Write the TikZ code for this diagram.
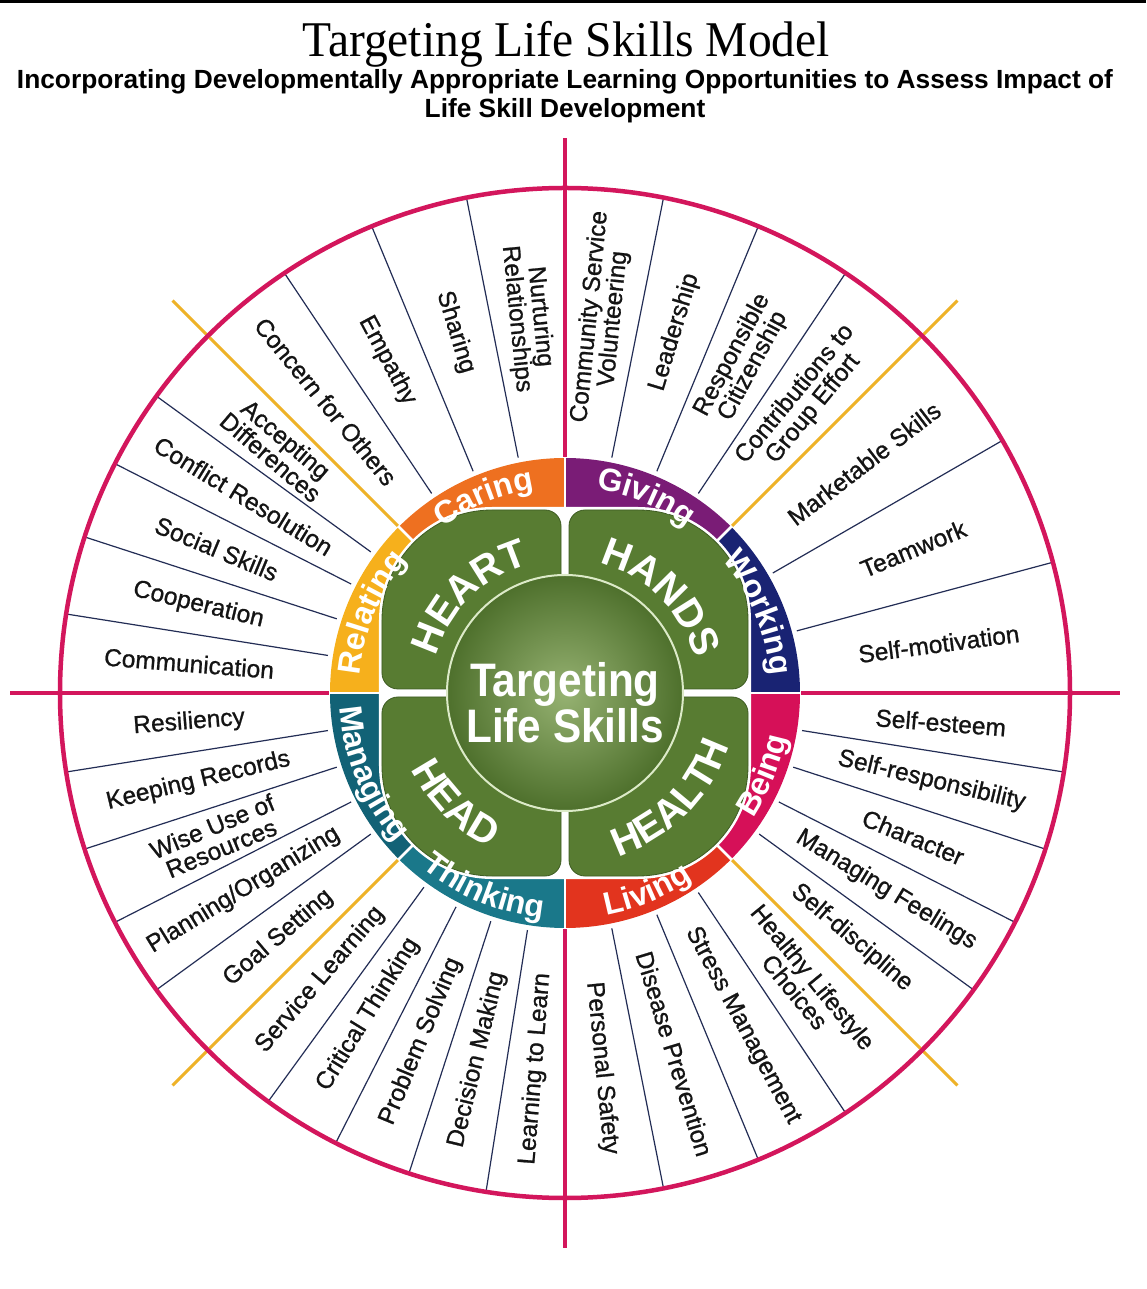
\documentclass[tikz,border=0pt]{standalone}
\usepackage{fontspec}
\usepackage{graphicx}
\usetikzlibrary{decorations.text}
\setmainfont{Liberation Serif}
\newfontfamily\hv{Liberation Sans}
\newfontfamily\skillfamily{Liberation Sans}[FakeBold=0.9]

\newcommand\titlefont{\rmfamily\fontsize{50}{54}\selectfont}
\newcommand\subfont{\hv\bfseries\fontsize{26.3}{29}\selectfont}
\newcommand\skillfont{\skillfamily\fontsize{24.5}{23.5}\selectfont}
\newcommand\hubfont{\hv\bfseries\fontsize{47}{50}\selectfont}
\newcommand\leaffont{\hv\bfseries\fontsize{40}{40}\selectfont}
\newcommand\bandfont{\hv\bfseries\fontsize{32}{32}\selectfont}

\definecolor{wheelmag}{RGB}{211,22,92}
\definecolor{wheelgold}{RGB}{238,178,40}
\definecolor{divider}{RGB}{35,45,85}
\definecolor{cWorking}{RGB}{25,35,115}
\definecolor{cGiving}{RGB}{122,28,118}
\definecolor{cCaring}{RGB}{238,112,32}
\definecolor{cRelating}{RGB}{246,176,28}
\definecolor{cManaging}{RGB}{18,98,118}
\definecolor{cThinking}{RGB}{26,120,138}
\definecolor{cLiving}{RGB}{226,52,30}
\definecolor{cBeing}{RGB}{214,16,88}
\definecolor{leaf}{RGB}{88,124,50}
\definecolor{leafdark}{RGB}{62,92,34}
\definecolor{hubin}{RGB}{150,178,114}
\definecolor{hubout}{RGB}{78,112,44}
\definecolor{hubrim}{RGB}{220,234,200}

% skill label placed radially at the middle of its slot, kept readable
\newcommand\skilllabel[3]{%
  \pgfmathsetmacro\skillrot{((#2>90)&&(#2<270)) ? #2-180 : #2}%
  \node[skilltext, rotate=\skillrot] (#1) at (#2:377pt) {#3};%
}

% white text set along an arc
\newcommand\arclabel[5]{%
  \path[decorate,decoration={text along path,text align=center,
    text color=white,text={|#4|#5}}]
    (#1:#3) arc[start angle=#1,end angle=#2,radius=#3];
}

\begin{document}
\begin{tikzpicture}[x=1pt,y=1pt,
  skilltext/.style={font=\skillfont, text=black!92, align=center, inner sep=0pt},
  axisline/.style={wheelmag, line width=4.5pt},
  goldline/.style={wheelgold, line width=3pt},
  slotline/.style={divider, line width=1.2pt}]

\useasboundingbox[fill=white] (-565,-596) rectangle (581,693);

% rule across the top
\fill[black] (-565,689.5) rectangle (581,693);

% headings
\node[anchor=base, font=\titlefont, inner sep=0pt] (title) at (1,636)
  {\scalebox{0.95}[1]{Targeting Life Skills Model}};
\node[anchor=base, font=\subfont, inner sep=0pt] (sub1) at (0,604)
  {Incorporating Developmentally Appropriate Learning Opportunities to Assess Impact of};
\node[anchor=base, font=\subfont, inner sep=0pt] (sub2) at (0,575)
  {Life Skill Development};

% slot dividers
\foreach \a in {15,30, 56.25,67.5,78.75, 101.25,112.5,123.75,
                144,153,162,171, 189,198,207,216, 234,243,252,261,
                281.25,292.5,303.75, 324,333,342,351}
  \draw[slotline] (\a:240pt) -- (\a:505pt);

% diagonals and axes
\foreach \a in {45,135,225,315}
  \draw[goldline] (\a:236pt) -- (\a:555pt);
\foreach \a in {0,90,180,270}
  \draw[axisline] (\a:236pt) -- (\a:555pt);

% outer rim
\draw[axisline] (0,0) circle[radius=505pt];

% coloured ring of the eight targets
\foreach \c [count=\i from 0] in {cWorking,cGiving,cCaring,cRelating,cManaging,cThinking,cLiving,cBeing}
  \fill[\c] (0,0) -- ({45*\i}:235pt) arc[start angle={45*\i}, end angle={45*\i+45}, radius=235pt] -- cycle;

% white backing behind the four leaves
\fill[white] (186,-73) -- (186,73) arc[start angle=0,end angle=90,radius=113pt]
  -- (-73,186) arc[start angle=90,end angle=180,radius=113pt]
  -- (-186,-73) arc[start angle=180,end angle=270,radius=113pt]
  -- (73,-186) arc[start angle=270,end angle=360,radius=113pt] -- cycle;
\foreach \a in {0,45,...,315}
  \draw[white, line width=2.5pt] (0,0) -- (\a:236pt);

% four leaves
\foreach \sx/\sy in {1/1,-1/1,-1/-1,1/-1}{
  \begin{scope}[xscale=\sx, yscale=\sy]
    \fill[leaf, draw=leafdark, line width=0.8pt]
      (4,4) -- (167,4) arc[start angle=-90,end angle=0,radius=16pt]
      -- (183,73) arc[start angle=0,end angle=90,radius=110pt]
      -- (20,183) arc[start angle=90,end angle=180,radius=16pt] -- cycle;
  \end{scope}
}

% hub
\shade[inner color=hubin, outer color=hubout] (0,0) circle[radius=118pt];
\draw[hubrim, line width=2pt] (0,0) circle[radius=118pt];
\node[anchor=base, font=\hubfont, text=white, inner sep=0pt] (hub1) at (0,-4) {\scalebox{0.9}[1]{Targeting}};
\node[anchor=base, font=\hubfont, text=white, inner sep=0pt] (hub2) at (0,-50) {\scalebox{0.9}[1]{Life Skills}};

% leaf words
\arclabel{195}{75}{134pt}{\leaffont}{HEART}
\arclabel{105}{-15}{134pt}{\leaffont}{HANDS}
\arclabel{165}{285}{172pt}{\leaffont}{HEAD}
\arclabel{255}{375}{172pt}{\leaffont}{HEALTH}

% ring words
\arclabel{135}{90}{206pt}{\bandfont}{Caring}
\arclabel{90}{45}{206pt}{\bandfont}{Giving}
\arclabel{180}{135}{206pt}{\bandfont}{Relating}
\arclabel{45}{0}{206pt}{\bandfont}{Working}
\arclabel{180}{225}{226pt}{\bandfont}{Managing}
\arclabel{225}{270}{226pt}{\bandfont}{Thinking}
\arclabel{270}{315}{226pt}{\bandfont}{Living}
\arclabel{315}{360}{226pt}{\bandfont}{Being}

% skills: Working
\skilllabel{selfmot}{7.5}{Self-motivation}
\skilllabel{teamwork}{22.5}{Teamwork}
\skilllabel{marketable}{37.5}{Marketable Skills}
% Giving
\skilllabel{contrib}{50.625}{Contributions to\\Group Effort}
\skilllabel{citizen}{61.875}{Responsible\\Citizenship}
\skilllabel{leader}{73.125}{Leadership}
\skilllabel{service}{84.375}{Community Service\\Volunteering}
% Caring
\skilllabel{nurture}{95.625}{Nurturing\\Relationships}
\skilllabel{sharing}{106.875}{Sharing}
\skilllabel{empathy}{118.125}{Empathy}
\skilllabel{concern}{129.375}{Concern for Others}
% Relating
\skilllabel{accept}{139.5}{Accepting\\Differences}
\skilllabel{conflict}{148.5}{Conflict Resolution}
\skilllabel{social}{157.5}{Social Skills}
\skilllabel{coop}{166.5}{Cooperation}
\skilllabel{commun}{175.5}{Communication}
% Managing
\skilllabel{resil}{184.5}{Resiliency}
\skilllabel{records}{193.5}{Keeping Records}
\skilllabel{wiseuse}{202.5}{Wise Use of\\Resources}
\skilllabel{planning}{211.5}{Planning/Organizing}
\skilllabel{goals}{220.5}{Goal Setting}
% Thinking
\skilllabel{servlearn}{229.5}{Service Learning}
\skilllabel{critical}{238.5}{Critical Thinking}
\skilllabel{problem}{247.5}{Problem Solving}
\skilllabel{decision}{256.5}{Decision Making}
\skilllabel{learning}{265.5}{Learning to Learn}
% Living
\skilllabel{safety}{275.625}{Personal Safety}
\skilllabel{disease}{286.875}{Disease Prevention}
\skilllabel{stress}{298.125}{Stress Management}
\skilllabel{lifestyle}{309.375}{Healthy Lifestyle\\Choices}
% Being
\skilllabel{discipline}{319.5}{Self-discipline}
\skilllabel{feelings}{328.5}{Managing Feelings}
\skilllabel{character}{337.5}{Character}
\skilllabel{selfresp}{346.5}{Self-responsibility}
\skilllabel{esteem}{355.5}{Self-esteem}

\end{tikzpicture}
\end{document}
